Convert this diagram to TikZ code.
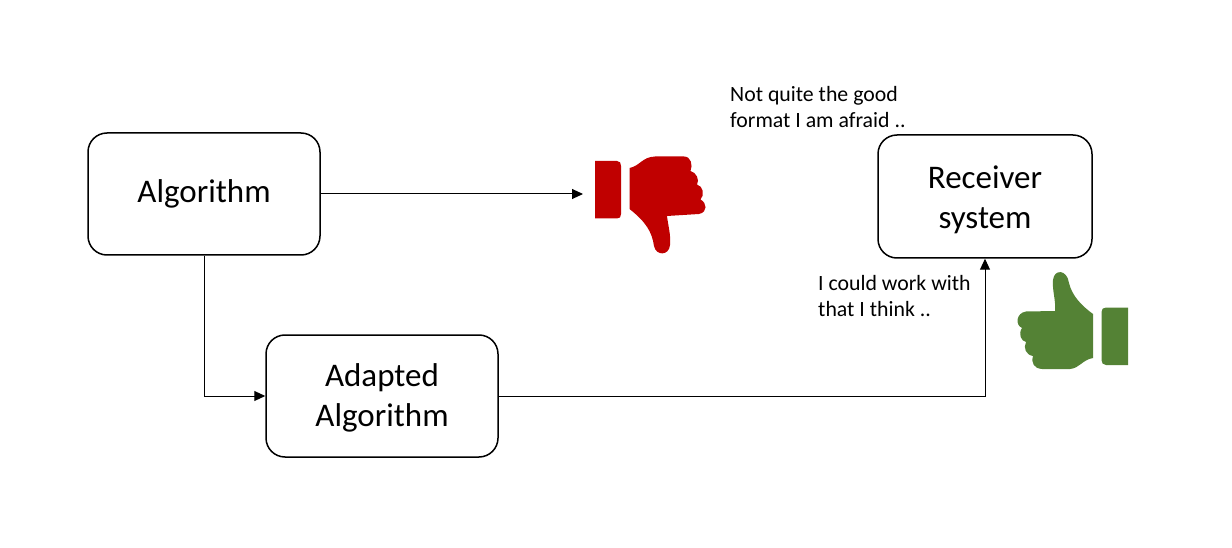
\documentclass[tikz,border=0pt]{standalone}
\usepackage{fontspec}
\setmainfont{Carlito}
\usetikzlibrary{arrows.meta,calc}
\definecolor{thumbred}{RGB}{192,0,0}
\definecolor{thumbgreen}{RGB}{84,130,53}
\tikzset{
  procbox/.style={draw=black,line width=1.5pt,rounded corners=19pt,minimum width=232pt,minimum height=122pt,inner sep=0pt,align=center,font=\fontsize{33}{40}\selectfont},
  link/.style={draw=black,line width=1pt,-{Triangle[length=11pt,width=10pt]}},
  remark/.style={inner sep=0pt,align=left,anchor=north west,font=\fontsize{21.8}{26}\selectfont}
}
\begin{document}
\begin{tikzpicture}[x=1pt,y=-1pt]
\useasboundingbox (0,0) rectangle (1232,548);
\node[procbox] (alg) at (204,194) {\raisebox{0.5pt}{Algorithm}};
\node[procbox] (adapt) at (382,396) {\rule{0pt}{26pt}Adapted\\Algorithm};
\node[procbox,minimum width=214pt,minimum height=123pt] (recv) at (985,196.5) {\rule{0pt}{30pt}Receiver\\system};
\coordinate (downend) at (583,194);
\node[remark] (t1) at (730,86) {Not quite the good\\format I am afraid ..};
\node[remark] (t2) at (818,275) {I could work with\\that I think ..};
\draw[link] (alg.east) -- (downend);
\draw[link] (alg.south) |- (adapt.west);
\draw[link] (adapt.east) -| (recv.south);
% thumb down
\fill[thumbred] (595,161) -- (617,161) .. controls (620,161) and (621,163) .. (621,166) -- (621,214) .. controls (621,217) and (620,218.5) .. (617,218.5) -- (595,218.5) -- cycle;
\fill[thumbred] (629.5,168) .. controls (640,166) and (642,157) .. (655,156.5)
  -- (684,156.5) .. controls (691,156.5) and (693,165) .. (690.5,171)
  .. controls (696,172) and (700,180) .. (697,184.5)
  .. controls (703,186) and (705,195) .. (700.5,199.5)
  .. controls (707,203) and (708,212) .. (699,214)
  -- (667,216) .. controls (668,225) and (671,235) .. (670,245)
  .. controls (669,256) and (656,256) .. (654,246)
  .. controls (652,232) and (646,222) .. (629.5,209) -- cycle;
% thumb up
\fill[thumbgreen] (1128,307.5) -- (1106,307.5) .. controls (1103,307.5) and (1101.5,309) .. (1101.5,312) -- (1101.5,360) .. controls (1101.5,363) and (1103,365) .. (1106,365) -- (1128,365) -- cycle;
\fill[thumbgreen] (1093,314) .. controls (1082,306) and (1072,296) .. (1069,283)
  .. controls (1067,269) and (1054,269) .. (1053,280)
  .. controls (1052,290) and (1056,300) .. (1055,311)
  -- (1026,311.5) .. controls (1016,313) and (1015,325) .. (1022,328)
  .. controls (1018,334) and (1021,341) .. (1026,342)
  .. controls (1023,348) and (1026,355) .. (1033,356)
  .. controls (1031,363) and (1034,368.5) .. (1042,369)
  -- (1070,369) .. controls (1080,368) and (1082,360) .. (1093,358) -- cycle;
\end{tikzpicture}
\end{document}
